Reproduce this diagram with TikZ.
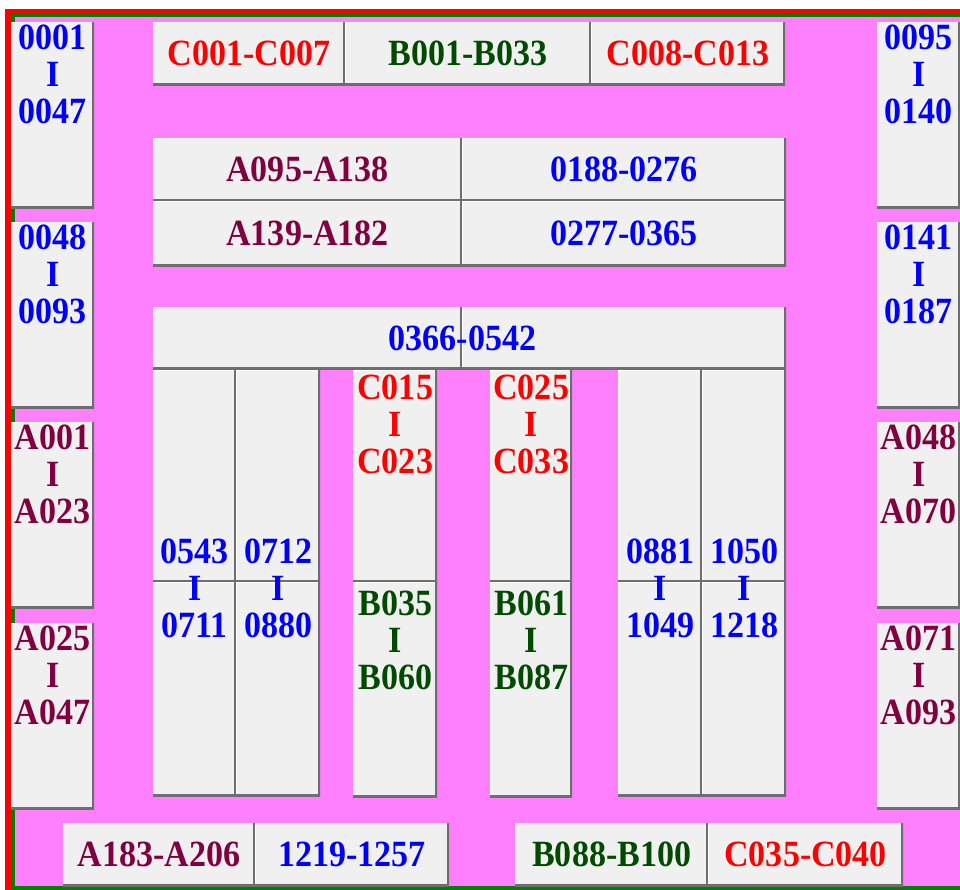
\documentclass[tikz,border=0pt]{standalone}
\usepackage{fontspec}
\setmainfont{Liberation Serif}
\newfontfamily\lblfont[FakeStretch=0.92]{Liberation Serif}
\usetikzlibrary{positioning}

\definecolor{bgpink}{RGB}{255,128,255}
\definecolor{btnface}{RGB}{240,240,240}
\definecolor{btnshadow}{RGB}{110,110,110}
\definecolor{edgegreen}{RGB}{0,128,0}
\definecolor{maroonA}{RGB}{128,0,64}
\definecolor{greenB}{RGB}{0,75,0}

\begin{document}
\begin{tikzpicture}[x=1pt,y=-1pt,
    btn/.style 2 args={anchor=north west, minimum width=#1, minimum height=#2,
      inner sep=0pt, fill=btnface,
      font=\lblfont\fontsize{37}{37}\selectfont\bfseries,
      path picture={
        \draw[white,line width=2pt] (path picture bounding box.south west)
          -- (path picture bounding box.north west) -- (path picture bounding box.north east);
        \draw[btnshadow,line width=5pt] (path picture bounding box.north east)
          -- (path picture bounding box.south east) -- (path picture bounding box.south west);
      }},
    lbl/.style={font=\lblfont\fontsize{37}{37}\selectfont\bfseries, align=center, inner sep=0pt},
  ]
  \useasboundingbox (0,0) rectangle (960,890);
  \fill[white] (0,0) rectangle (960,890);
  \fill[bgpink] (11,13) rectangle (960,890);
  \fill[red] (5,9) rectangle (960,13);
  \fill[red] (5,9) rectangle (11,890);
  \fill[edgegreen] (11,13) rectangle (960,17);
  \fill[edgegreen] (11,13) rectangle (15,890);
  \fill[edgegreen] (11,886) rectangle (960,890);

  \foreach \n/\y/\c/\t in {1/22/blue/{0001\\I\\0047}, 2/222/blue/{0048\\I\\0093},
      3/422/maroonA/{A001\\I\\A023}, 4/623/maroonA/{A025\\I\\A047}} {
    \node[btn={83}{186}] (L\n) at (11,\y) {};
    \node[lbl, text=\c, below=3pt of L\n.north] (tL\n) {\t};
  }
  \foreach \n/\y/\c/\t in {1/22/blue/{0095\\I\\0140}, 2/222/blue/{0141\\I\\0187},
      3/422/maroonA/{A048\\I\\A070}, 4/623/maroonA/{A071\\I\\A093}} {
    \node[btn={83}{186}] (R\n) at (877,\y) {};
    \node[lbl, text=\c, below=3pt of R\n.north] (tR\n) {\t};
  }

  \node[btn={192}{63}, text=red] (T1) at (153,22) {C001-C007};
  \node[btn={246}{63}, text=greenB] (T2) at (345,22) {B001-B033};
  \node[btn={194}{63}, text=red] (T3) at (591,22) {C008-C013};

  \node[btn={309}{63}, text=maroonA] (A1) at (153,138) {A095-A138};
  \node[btn={324}{63}, text=blue] (N1) at (462,138) {0188-0276};
  \node[btn={309}{65}, text=maroonA] (A2) at (153,201) {A139-A182};
  \node[btn={324}{65}, text=blue] (N2) at (462,201) {0277-0365};

  \node[btn={309}{62}] (M1) at (153,307) {};
  \node[btn={324}{62}] (M2) at (462,307) {};
  \node[lbl, text=blue] (tM) at (M1.east) {0366-0542};

  \foreach \n/\x/\w/\t in {1/153/83/{0543\\I\\0711}, 2/236/84/{0712\\I\\0880},
      3/618/84/{0881\\I\\1049}, 4/702/84/{1050\\I\\1218}} {
    \node[btn={\w}{212}] (S\n a) at (\x,370) {};
    \node[btn={\w}{214}] (S\n b) at (\x,582) {};
    \node[lbl, text=blue] (tS\n) at ([yshift=-6pt]S\n a.south) {\t};
  }

  \foreach \n/\x/\w/\ta/\tb in {1/353/84/{C015\\I\\C023}/{B035\\I\\B060},
      2/490/82/{C025\\I\\C033}/{B061\\I\\B087}} {
    \node[btn={\w}{212}] (C\n a) at (\x,370) {};
    \node[btn={\w}{215}] (C\n b) at (\x,582) {};
    \node[lbl, text=red, below=5pt of C\n a.north] (tC\n a) {\ta};
    \node[lbl, text=greenB, below=9pt of C\n b.north] (tC\n b) {\tb};
  }

  \node[btn={192}{63}, text=maroonA] (B1) at (63,823) {A183-A206};
  \node[btn={194}{63}, text=blue] (B2) at (255,823) {1219-1257};
  \node[btn={193}{63}, text=greenB] (B3) at (515,823) {B088-B100};
  \node[btn={195}{63}, text=red] (B4) at (708,823) {C035-C040};
\end{tikzpicture}
\end{document}
